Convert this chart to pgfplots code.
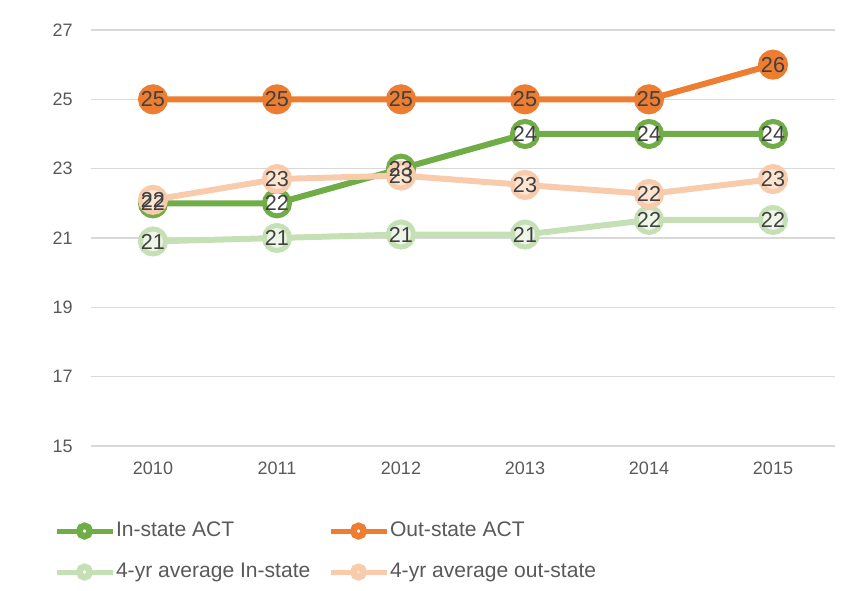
\documentclass[border=0pt]{standalone}
\usepackage{fontspec}
\setmainfont{Liberation Sans}
\usepackage{pgfplots}
\usepackage{pgfplotstable}
\pgfplotsset{compat=1.18}

\definecolor{cIn}{HTML}{70AD47}
\definecolor{cOut}{HTML}{ED7D31}
\definecolor{cAvgIn}{HTML}{C5E0B4}
\definecolor{cAvgOut}{HTML}{F8CBAD}
\definecolor{cAvgOutFill}{HTML}{FDE5D2}
\definecolor{gridc}{HTML}{D9D9D9}
\definecolor{tickc}{HTML}{595959}
\definecolor{labc}{HTML}{404040}

\pgfplotstableread{
x year ins outs avgin avgout
0 2010 22 25 20.9 22.1
1 2011 22 25 21.0 22.7
2 2012 23 25 21.1 22.8
3 2013 24 25 21.1 22.53
4 2014 24 25 21.52 22.27
5 2015 24 26 21.52 22.7
}\scores

\newcommand{\legimg}[2]{%
  \draw[line width=3.75pt,#1] (0pt,0pt) -- (42pt,0pt);
  \draw[line width=4.9pt,#1,fill=#2] (21pt,0pt) circle (3.95pt);}

\begin{document}
\begin{tikzpicture}
\begin{axis}[
  at={(0,0)}, anchor=south west,
  scale only axis, width=558pt, height=312pt,
  xmin=-0.5, xmax=5.5, ymin=15, ymax=27,
  xtick={0,...,5}, xticklabels={2010,2011,2012,2013,2014,2015},
  ytick={15,17,...,27},
  ymajorgrids, grid style={gridc, line width=0.9pt},
  axis line style={draw=none}, tick style={draw=none},
  tick label style={font=\fontsize{13.5}{16}\selectfont, text=tickc},
  xticklabel style={inner sep=0pt, anchor=north, yshift=-11.5pt},
  yticklabel style={inner sep=0pt, anchor=east, xshift=-13.5pt},
  /pgf/number format/assume math mode=true,
  clip=false,
  legend columns=2,
  legend style={draw=none, fill=none, inner sep=0pt, outer sep=0pt,
    at={(-0.0497,-0.182)}, anchor=north west,
    font=\fontsize{15.8}{19}\selectfont, text=tickc,
    column sep=0pt, row sep=16.75pt,
    nodes={inner sep=0pt, anchor=west, text height=11pt, text depth=3pt},
    /tikz/every even column/.append style={column sep=0pt}},
  nodes near coords style={font=\fontsize{16.2}{19}\selectfont, text=labc,
    anchor=center, inner sep=0pt},
  every node near coord/.append style={anchor=center},
]
\addplot[cIn, line width=4.5pt, mark=*, mark size=9.4pt,
  mark options={line width=3.75pt, draw=cIn, fill=white},
  legend image code/.code={\legimg{cIn}{white}}]
  table[x=x, y=ins] {\scores};
\addlegendentry{\hspace{0.75pt}\makebox[159pt][l]{In-state ACT}}
\addplot[cOut, line width=4.5pt, mark=*, mark size=9.4pt,
  mark options={line width=3.75pt, draw=cOut, fill=cOut},
  legend image code/.code={\legimg{cOut}{white}}]
  table[x=x, y=outs] {\scores};
\addlegendentry{\hspace{0.75pt}Out-state ACT}
\addplot[cAvgIn, line width=4.5pt, mark=*, mark size=9.4pt,
  mark options={line width=3.75pt, draw=cAvgIn, fill=cAvgIn!30!white},
  legend image code/.code={\legimg{cAvgIn}{white}}]
  table[x=x, y=avgin] {\scores};
\addlegendentry{\hspace{0.75pt}\makebox[159pt][l]{4-yr average In-state}}
\addplot[cAvgOut, line width=4.5pt, mark=*, mark size=9.4pt,
  mark options={line width=3.75pt, draw=cAvgOut, fill=cAvgOutFill},
  legend image code/.code={\legimg{cAvgOut}{cAvgOutFill}}]
  table[x=x, y=avgout] {\scores};
\addlegendentry{\hspace{0.75pt}4-yr average out-state}

% data labels on top of all series
\pgfplotsinvokeforeach{ins,outs,avgin,avgout}{
  \addplot[draw=none, mark=none, forget plot,
    nodes near coords, point meta=explicit,
    nodes near coords={\pgfmathprintnumber[fixed,precision=0]{\pgfplotspointmeta}}]
    table[x=x, y=#1, meta=#1] {\scores};
}
\end{axis}
\pgfresetboundingbox
\path (-68.25pt,-108.75pt) rectangle (562.5pt,334.5pt);
\end{tikzpicture}
\end{document}
